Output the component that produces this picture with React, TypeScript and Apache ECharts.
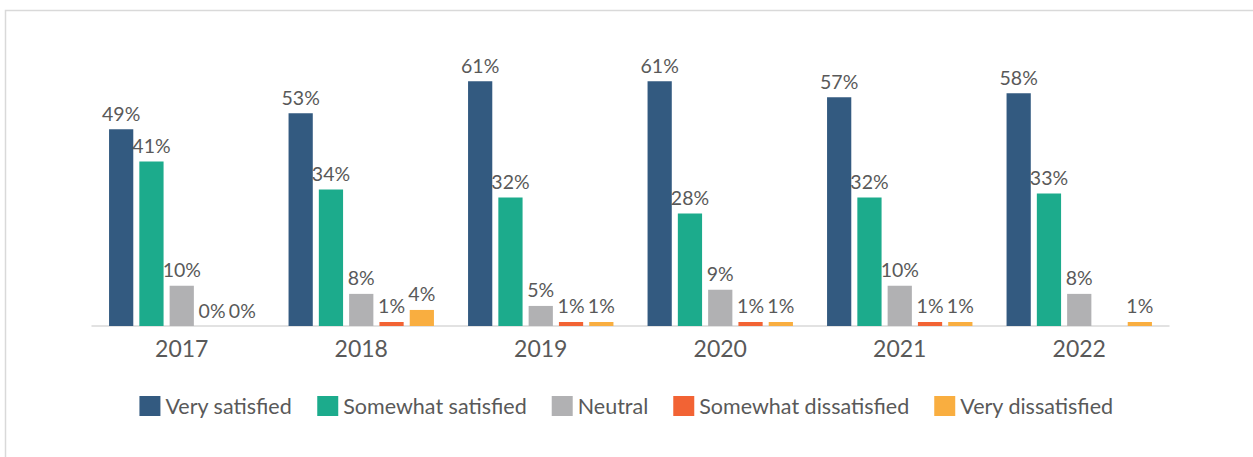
import React, { useEffect, useRef } from "react";
import * as echarts from "echarts";

const years = ["2017", "2018", "2019", "2020", "2021", "2022"];
const seriesNames = [
  "Very satisfied",
  "Somewhat satisfied",
  "Neutral",
  "Somewhat dissatisfied",
  "Very dissatisfied",
];
const verySatisfied = [49, 53, 61, 61, 57, 58];
const somewhatSatisfied = [41, 34, 32, 28, 32, 33];
const neutral = [10, 8, 5, 9, 10, 8];
const somewhatDissatisfied: (number | null)[] = [0, 1, 1, 1, 1, null];
const veryDissatisfied = [0, 4, 1, 1, 1, 1];
const colors = ["#335A80", "#1CAB8C", "#B1B1B3", "#F26334", "#F9AE40"];

const FONT = "Lato";
const TEXT = "#595959";

export default function App() {
  const ref = useRef<HTMLDivElement>(null);
  useEffect(() => {
    document.body.style.margin = "0";
    if (!ref.current) return;
    const chart = echarts.init(ref.current, undefined, { renderer: "svg" });
    const allData = [verySatisfied, somewhatSatisfied, neutral, somewhatDissatisfied, veryDissatisfied];
    chart.setOption({
      animation: false,
      color: colors,
      textStyle: { fontFamily: FONT, color: TEXT },
      graphic: [
        {
          type: "rect",
          shape: { x: 5.5, y: 10.5, width: 1300, height: 500 },
          style: { fill: "none", stroke: "#D9D9D9", lineWidth: 1.5 },
          silent: true,
        },
      ],
      grid: { left: 92, right: 84, top: 45, bottom: 131 },
      legend: {
        bottom: 35,
        left: "center",
        itemWidth: 21,
        itemHeight: 20,
        itemGap: 25,
        icon: "rect",
        textStyle: { fontFamily: FONT, fontSize: 21.5, color: TEXT },
        data: seriesNames,
      },
      xAxis: {
        type: "category",
        data: years,
        axisLine: { lineStyle: { color: "#D9D9D9", width: 1.5 } },
        axisTick: { show: false },
        axisLabel: { fontFamily: FONT, fontSize: 23, color: TEXT, margin: 10 },
      },
      yAxis: {
        type: "value",
        min: 0,
        max: 70,
        show: false,
        splitLine: { show: false },
      },
      series: seriesNames.map((name, i) => ({
        name,
        type: "bar",
        data: allData[i],
        barGap: "25%",
        barCategoryGap: "19%",
        label: {
          show: true,
          position: "top",
          distance: 6,
          formatter: "{c}%",
          fontFamily: FONT,
          fontSize: 19.5,
          color: TEXT,
        },
      })),
    });
    return () => chart.dispose();
  }, []);
  return <div ref={ref} style={{ width: 1253, height: 457 }} />;
}
